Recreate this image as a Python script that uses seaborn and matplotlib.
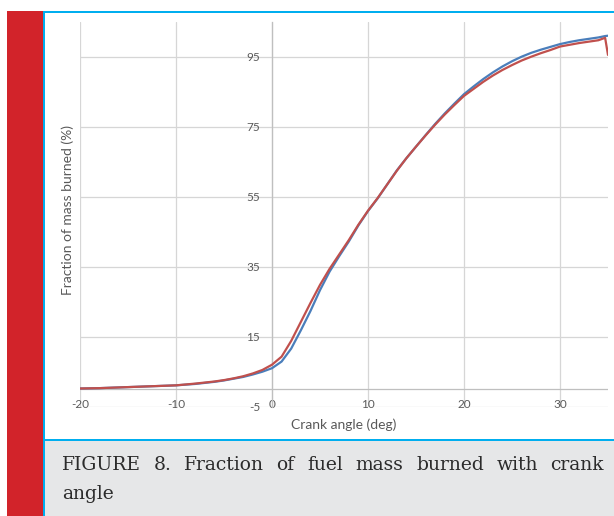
import matplotlib
matplotlib.use("Agg")
import numpy as np
import pandas as pd
import seaborn as sns
import matplotlib.pyplot as plt
from matplotlib.patches import Rectangle

# ---------------- data ----------------
crank_angle = [-20, -18, -16, -14, -12, -10, -8, -7, -6, -5, -4, -3, -2, -1, 0,
               1, 2, 3, 4, 5, 6, 7, 8, 9, 10, 11, 12, 13, 14, 15, 16, 17, 18, 19,
               20, 21, 22, 23, 24, 25, 26, 27, 28, 29, 30, 31, 32, 33, 34, 34.7, 35]
blue_vals = [0.2, 0.3, 0.5, 0.7, 0.9, 1.1, 1.5, 1.8, 2.1, 2.5, 3.0, 3.5, 4.2, 5.0, 6.0,
             7.9, 11.6, 16.8, 22.3, 28.3, 33.6, 38.0, 42.2, 46.8, 50.9, 54.5, 58.5, 62.5,
             66.0, 69.3, 72.6, 75.8, 78.8, 81.6, 84.3, 86.5, 88.6, 90.5, 92.2, 93.7, 95.0,
             96.1, 97.0, 97.8, 98.6, 99.2, 99.7, 100.1, 100.5, 100.9, 101.0]
red_vals = [0.2, 0.3, 0.5, 0.7, 0.9, 1.1, 1.6, 1.9, 2.2, 2.6, 3.1, 3.7, 4.5, 5.5, 7.0,
            9.3, 13.8, 19.2, 24.6, 29.8, 34.4, 38.5, 42.6, 47.0, 51.0, 54.6, 58.5, 62.4,
            66.0, 69.3, 72.5, 75.6, 78.5, 81.2, 83.8, 85.8, 87.8, 89.6, 91.2, 92.6, 93.9,
            95.0, 96.0, 96.9, 97.9, 98.4, 98.9, 99.3, 99.7, 100.4, 95.5]
x_ticks = [-20, -10, 0, 10, 20, 30]
y_ticks = [-5, 15, 35, 55, 75, 95]
x_label = "Crank angle (deg)"
y_label = "Fraction of mass burned (%)"
caption_line1 = ["FIGURE", "8.", "Fraction", "of", "fuel", "mass", "burned", "with", "crank"]
caption_line2 = "angle"

df = pd.DataFrame({
    "angle": crank_angle * 2,
    "value": blue_vals + red_vals,
    "series": ["blue"] * len(crank_angle) + ["red"] * len(crank_angle),
})

# ---------------- figure ----------------
sns.set_style("white")
plt.rcParams["font.family"] = ["Lato", "DejaVu Sans"]

W, H = 614, 516
fig = plt.figure(figsize=(W / 100, H / 100), dpi=100)
fig.patch.set_facecolor("white")


def rect(x0, y0, x1, y1, color):
    fig.patches.append(Rectangle((x0 / W, 1 - y1 / H), (x1 - x0) / W, (y1 - y0) / H,
                                 transform=fig.transFigure, facecolor=color,
                                 edgecolor="none", zorder=0))


rect(7, 11, 43, 516, "#D2232A")      # red side bar
rect(45, 441, 614, 516, "#E6E7E8")   # caption background
rect(43, 11, 614, 13, "#00AEEF")     # top blue line
rect(43, 11, 45, 516, "#00AEEF")     # left blue line
rect(45, 439, 614, 441, "#00AEEF")   # separator blue line

ax_l, ax_r, ax_t, ax_b = 80, 608, 21.7, 406.7
ax = fig.add_axes([ax_l / W, 1 - ax_b / H, (ax_r - ax_l) / W, (ax_b - ax_t) / H])
ax.set_facecolor("none")

sns.lineplot(data=df, x="angle", y="value", hue="series", hue_order=["blue", "red"],
             palette={"blue": "#4A7EBB", "red": "#C0504D"}, linewidth=1.6,
             legend=False, errorbar=None, ax=ax, zorder=3)

ax.set_xlim(-20, 35)
ax.set_ylim(-5, 105)
ax.set_xticks(x_ticks)
ax.set_yticks(y_ticks)
ax.set_xticklabels([str(v) for v in x_ticks])
ax.set_yticklabels([str(v) for v in y_ticks])
ax.grid(True, color="#D6D6D6", linewidth=0.9, zorder=0)
ax.set_axisbelow(True)
for s in ["top", "right", "bottom"]:
    ax.spines[s].set_visible(False)
ax.spines["left"].set_position(("data", 0))
ax.spines["left"].set_color("#BFBFBF")
ax.spines["left"].set_linewidth(0.9)
ax.axhline(0, color="#BFBFBF", linewidth=0.9, zorder=1)

ax.tick_params(axis="x", length=0, pad=-5.4, labelsize=8.5, labelcolor="#595959")
ax.tick_params(axis="y", length=0, pad=8.5, labelsize=8.5, labelcolor="#595959")
ax.set_xlabel("")
ax.set_ylabel("")

fig.text((ax_l + ax_r) / 2 / W, 1 - 425 / H, x_label, ha="center", va="center",
         fontsize=10, color="#595959")
fig.text(68 / W, 1 - 210 / H, y_label, ha="center", va="center", rotation=90,
         fontsize=10, color="#595959")

# ---------------- caption (justified) ----------------
cap_kw = dict(fontsize=13.5, color="#2B2B2B", family=["DejaVu Serif"],
              va="baseline", ha="left")
left_px, right_px = 62, 604
words = [fig.text(left_px / W, 1 - 470 / H, w, **cap_kw) for w in caption_line1]
fig.text(left_px / W, 1 - 499 / H, caption_line2, **cap_kw)
fig.canvas.draw()
renderer = fig.canvas.get_renderer()
widths = [t.get_window_extent(renderer).width for t in words]
gap = (right_px - left_px - sum(widths)) / (len(words) - 1)
xpos = left_px
for t, w in zip(words, widths):
    t.set_x(xpos / W)
    xpos += w + gap

fig.savefig("out.png", dpi=100)
